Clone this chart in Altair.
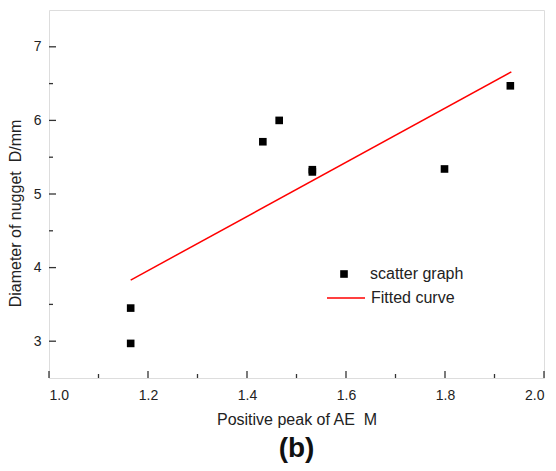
import altair as alt
import pandas as pd

# Scatter data
scatter_x = [1.165, 1.165, 1.432, 1.465, 1.532, 1.532, 1.799, 1.932]
scatter_y = [3.45, 2.97, 5.71, 6.00, 5.30, 5.33, 5.34, 6.47]

# Fitted line end points
fit_x = [1.165, 1.934]
fit_y = [3.83, 6.66]

x_major = [1.0, 1.2, 1.4, 1.6, 1.8, 2.0]
x_minor = [1.1, 1.3, 1.5, 1.7, 1.9]
y_major = [3, 4, 5, 6, 7]
y_minor = [3.5, 4.5, 5.5, 6.5]

W, H = 495, 368
FONT = "Liberation Sans"
TICK_C = "#333333"

scat_df = pd.DataFrame({"x": scatter_x, "y": scatter_y, "s": "scatter graph"})
fit_df = pd.DataFrame({"x": fit_x, "y": fit_y, "s": "Fitted curve"})

xscale = alt.Scale(domain=[1.0, 2.0], nice=False, zero=False)
yscale = alt.Scale(domain=[2.5, 7.5], nice=False, zero=False)

xaxis = alt.Axis(values=x_major, format=".1f", title="Positive peak of AE\u00a0\u00a0M",
                 grid=False, domain=False, ticks=False, tickSize=0,
                 labelFont=FONT, labelFontSize=14, labelColor="#222222", labelPadding=10,
                 titleFont=FONT, titleFontSize=16, titleFontWeight="normal",
                 titleColor="#222222", titlePadding=9)
yaxis = alt.Axis(values=y_major, format="d", title="Diameter of nugget\u00a0\u00a0D/mm",
                 grid=False, domain=False, ticks=False, tickSize=0,
                 labelFont=FONT, labelFontSize=14, labelColor="#222222", labelPadding=8,
                 titleFont=FONT, titleFontSize=16, titleFontWeight="normal",
                 titleColor="#222222", titlePadding=10, titleY=203)

points = alt.Chart(scat_df).mark_point(shape="square", filled=True, size=58, opacity=1).encode(
    x=alt.X("x:Q", scale=xscale, axis=xaxis),
    y=alt.Y("y:Q", scale=yscale, axis=yaxis),
    color=alt.Color("s:N", scale=alt.Scale(domain=["scatter graph"], range=["#000000"]),
                    legend=alt.Legend(title=None, orient="none", legendX=287, legendY=256,
                                      padding=0, labelFont=FONT, labelFontSize=16,
                                      labelColor="#222222", labelOffset=18, symbolSize=58,
                                      symbolOpacity=1)),
)

line = alt.Chart(fit_df).mark_line(strokeWidth=1.5).encode(
    x="x:Q",
    y="y:Q",
    stroke=alt.Stroke("s:N", scale=alt.Scale(domain=["Fitted curve"], range=["#ff0000"]),
                      legend=alt.Legend(title=None, orient="none", legendX=277, legendY=268,
                                        padding=0, labelFont=FONT, labelFontSize=16,
                                        labelColor="#222222", labelOffset=5,
                                        symbolSize=1444, symbolStrokeWidth=1.5)),
)

xmaj_df = pd.DataFrame({"v": x_major})
xmin_df = pd.DataFrame({"v": x_minor})
ymaj_df = pd.DataFrame({"v": y_major})
ymin_df = pd.DataFrame({"v": y_minor})

xt_major = alt.Chart(xmaj_df).mark_rule(color=TICK_C, strokeWidth=1.3).encode(
    x="v:Q", y=alt.value(H), y2=alt.value(H - 7))
xt_minor = alt.Chart(xmin_df).mark_rule(color=TICK_C, strokeWidth=1.3).encode(
    x="v:Q", y=alt.value(H), y2=alt.value(H - 4))
yt_major = alt.Chart(ymaj_df).mark_rule(color=TICK_C, strokeWidth=1.3).encode(
    y="v:Q", x=alt.value(0), x2=alt.value(7))
yt_minor = alt.Chart(ymin_df).mark_rule(color=TICK_C, strokeWidth=1.3).encode(
    y="v:Q", x=alt.value(0), x2=alt.value(4))

chart = alt.layer(xt_major, xt_minor, yt_major, yt_minor, line, points).resolve_scale(
    color="independent", stroke="independent"
).properties(
    width=W, height=H,
    autosize=alt.AutoSizeParams(type="none"),
    padding={"left": 41, "top": 2, "right": 4, "bottom": 85},
    title=alt.TitleParams("(b)", orient="bottom", anchor="middle", font=FONT,
                          fontSize=28, fontWeight="bold", color="#111111", offset=8),
).configure_view(
    stroke="#222222", strokeWidth=1.6
).configure(background="white")

chart.save("out.html", embed_options={"renderer": "svg", "actions": False})
